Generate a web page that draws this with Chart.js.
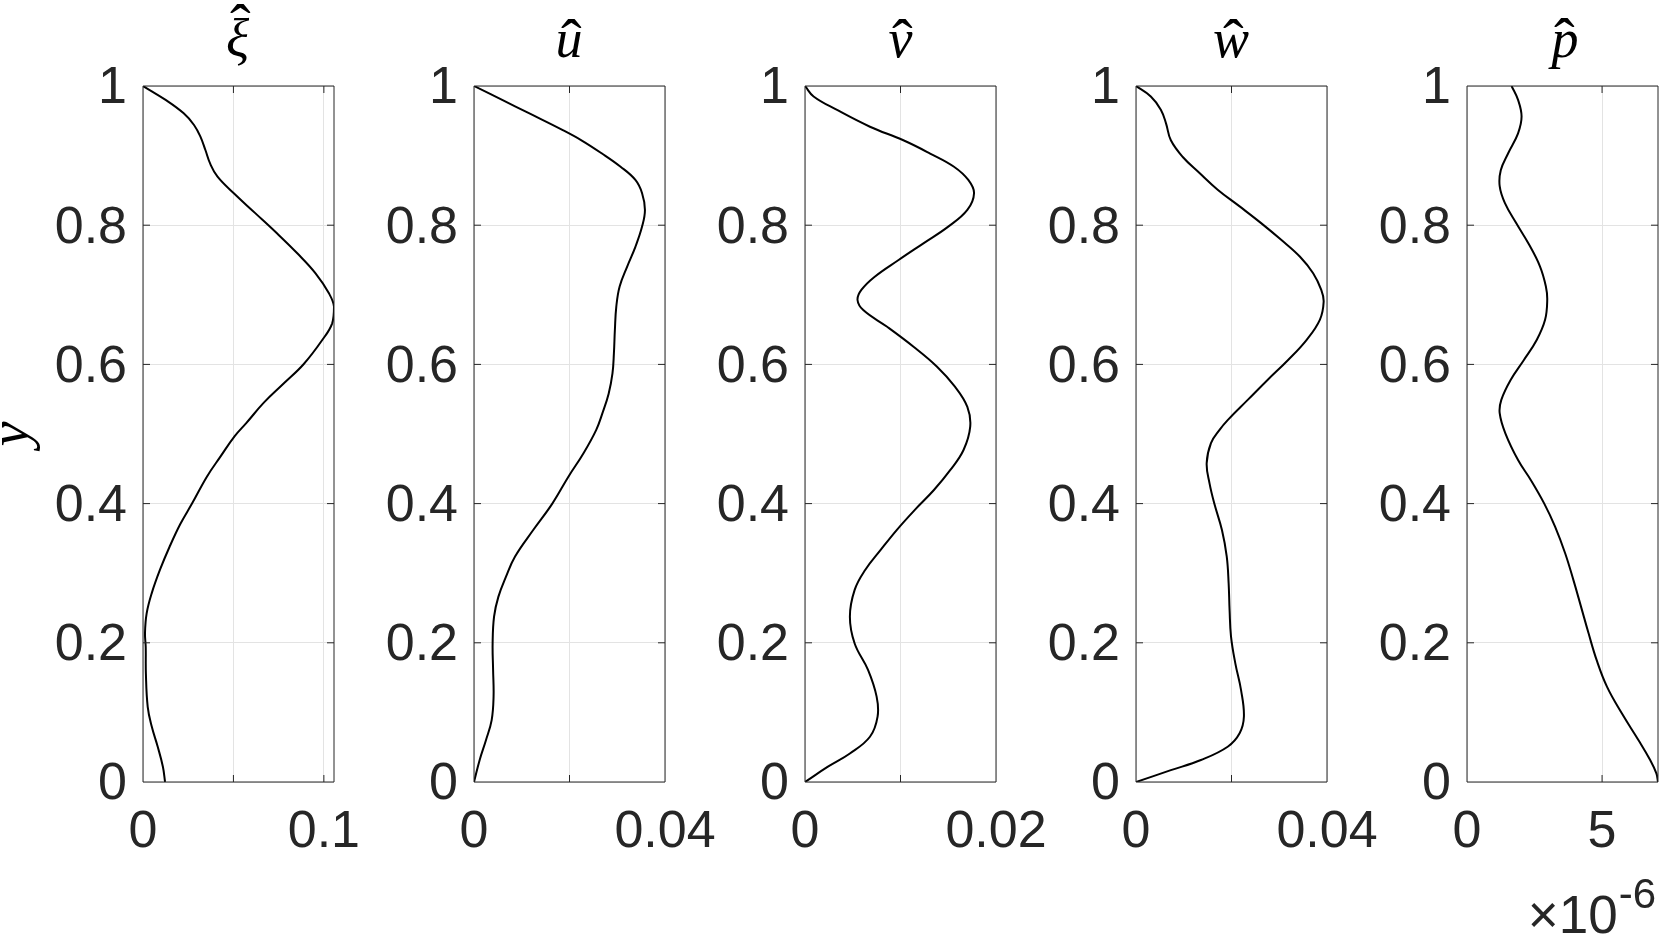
<!DOCTYPE html>
<html lang="en">
<head>
<meta charset="UTF-8">
<title>Profiles</title>
<script src="https://cdn.jsdelivr.net/npm/chart.js"></script>
<style>
  html, body { margin: 0; padding: 0; background: #fff; overflow: hidden; }
  #wrap { position: relative; width: 1661px; height: 936px; }
  .panel { position: absolute; top: 0; }
</style>
</head>
<body>
<div id="wrap">
  <canvas id="c0" class="panel"></canvas>
  <canvas id="c1" class="panel"></canvas>
  <canvas id="c2" class="panel"></canvas>
  <canvas id="c3" class="panel"></canvas>
  <canvas id="c4" class="panel"></canvas>
</div>
<script>
// y axis, shared by all panels
const yTicks = [0, 0.2, 0.4, 0.6, 0.8, 1];
const yTickLabels = ['0', '0.2', '0.4', '0.6', '0.8', '1'];

// xi hat
const xiY = [1, 0.98, 0.9607, 0.944, 0.927, 0.908, 0.888, 0.8697, 0.8458, 0.817, 0.788, 0.7596, 0.7308, 0.7021, 0.683, 0.659, 0.635, 0.6006, 0.5728, 0.545, 0.516, 0.497, 0.4675, 0.439, 0.40, 0.371, 0.338, 0.305, 0.271, 0.242, 0.214, 0.194, 0.156, 0.108, 0.08, 0.051, 0.022, 0];
const xiX = [0, 0.0125, 0.0225, 0.0282, 0.0318, 0.0345, 0.0372, 0.0412, 0.0502, 0.0622, 0.0742, 0.0853, 0.0954, 0.1028, 0.1056, 0.1046, 0.0991, 0.0889, 0.0779, 0.0668, 0.0572, 0.0507, 0.0428, 0.0354, 0.0271, 0.0207, 0.0147, 0.0094, 0.0048, 0.002, 0.0011, 0.0015, 0.0016, 0.0026, 0.0048, 0.0081, 0.011, 0.0122];

// u hat
const uY = [1, 0.98, 0.961, 0.937, 0.922, 0.903, 0.884, 0.865, 0.846, 0.822, 0.798, 0.769, 0.741, 0.712, 0.683, 0.649, 0.616, 0.587, 0.558, 0.53, 0.506, 0.472, 0.439, 0.40, 0.362, 0.324, 0.295, 0.266, 0.2375, 0.199, 0.161, 0.123, 0.089, 0.06, 0.032, 0];
const uX = [0, 0.0059, 0.0115, 0.0185, 0.0225, 0.0268, 0.0307, 0.0338, 0.0352, 0.0358, 0.0352, 0.0338, 0.0321, 0.0305, 0.0298, 0.0295, 0.0293, 0.0290, 0.0282, 0.0269, 0.0256, 0.0229, 0.0198, 0.0164, 0.0124, 0.0086, 0.0067, 0.0051, 0.0042, 0.0039, 0.0040, 0.0041, 0.0037, 0.0025, 0.0012, 0];

// v hat
const vY = [1, 0.985, 0.966, 0.9415, 0.922, 0.903, 0.884, 0.865, 0.846, 0.822, 0.798, 0.774, 0.75, 0.726, 0.707, 0.6925, 0.678, 0.654, 0.625, 0.597, 0.568, 0.539, 0.5105, 0.477, 0.448, 0.4195, 0.391, 0.362, 0.333, 0.3046, 0.276, 0.2375, 0.199, 0.161, 0.1226, 0.094, 0.065, 0.041, 0.022, 0];
const vX = [0, 0.0009, 0.0033, 0.0068, 0.0103, 0.0131, 0.0156, 0.0171, 0.0177, 0.0170, 0.0150, 0.0124, 0.0098, 0.0073, 0.0059, 0.0055, 0.0061, 0.0086, 0.0114, 0.0138, 0.0157, 0.0170, 0.0173, 0.0166, 0.0152, 0.0135, 0.0115, 0.0096, 0.0079, 0.0063, 0.0052, 0.0047, 0.0052, 0.0066, 0.0075, 0.0076, 0.0068, 0.0047, 0.0024, 0];

// w hat
const wY = [1, 0.985, 0.966, 0.946, 0.922, 0.898, 0.875, 0.851, 0.827, 0.803, 0.779, 0.755, 0.731, 0.707, 0.69, 0.664, 0.635, 0.606, 0.578, 0.549, 0.52, 0.506, 0.487, 0.458, 0.429, 0.40, 0.362, 0.324, 0.2855, 0.247, 0.209, 0.1705, 0.132, 0.094, 0.07, 0.0507, 0.0316, 0.017, 0];
const wX = [0, 0.0031, 0.0052, 0.0063, 0.0073, 0.0098, 0.0133, 0.0171, 0.0217, 0.0262, 0.0304, 0.0343, 0.0371, 0.0388, 0.0393, 0.0385, 0.0357, 0.0318, 0.0276, 0.0234, 0.0192, 0.0175, 0.0157, 0.0148, 0.0154, 0.0164, 0.0180, 0.0190, 0.0194, 0.0196, 0.0199, 0.0208, 0.0220, 0.0226, 0.0217, 0.0192, 0.0136, 0.0073, 0];

// p hat
const pY = [1, 0.98, 0.956, 0.932, 0.903, 0.879, 0.856, 0.832, 0.803, 0.774, 0.741, 0.712, 0.6925, 0.664, 0.635, 0.606, 0.578, 0.549, 0.53, 0.501, 0.4626, 0.434, 0.40, 0.367, 0.329, 0.29, 0.252, 0.2136, 0.175, 0.137, 0.0987, 0.06, 0.0316, 0.0125, 0];
const pX = [1.65e-6, 1.89e-6, 2.02e-6, 1.89e-6, 1.52e-6, 1.25e-6, 1.21e-6, 1.40e-6, 1.82e-6, 2.27e-6, 2.70e-6, 2.92e-6, 2.97e-6, 2.89e-6, 2.58e-6, 2.10e-6, 1.62e-6, 1.27e-6, 1.21e-6, 1.42e-6, 1.89e-6, 2.36e-6, 2.86e-6, 3.26e-6, 3.63e-6, 3.94e-6, 4.22e-6, 4.50e-6, 4.80e-6, 5.18e-6, 5.73e-6, 6.35e-6, 6.78e-6, 7.01e-6, 7.07e-6];

const titles = ['\u03BE', 'u', 'v', 'w', 'p'];   // each gets a hat on top
const seriesX = [xiX, uX, vX, wX, pX];
const seriesY = [xiY, uY, vY, wY, pY];
const xMax = [0.1056, 0.04, 0.02, 0.04, 7.07e-6];
const xTicks = [[0, 0.05, 0.1], [0, 0.02, 0.04], [0, 0.01, 0.02], [0, 0.02, 0.04], [0, 5e-6]];
const xTickLabels = [['0', '', '0.1'], ['0', '', '0.04'], ['0', '', '0.02'], ['0', '', '0.04'], ['0', '5']];

const panelLeft = [143, 474, 805, 1136, 1467];
const AXIS_W = 143, PLOT_W = 191, RIGHT_PAD = 95, TOP_PAD = 86, BOTTOM_H = 154, H = 936;
const INK = '#262626';
const TICK_FONT = { family: 'Liberation Sans', size: 52 };

// MATLAB style box with inward ticks on all four sides
const axesFrame = {
    id: 'axesFrame',
    afterDatasetsDraw(chart) {
        const {ctx, chartArea: a, scales: {x, y}} = chart;
        const tl = 7;
        ctx.save();
        ctx.strokeStyle = INK;
        ctx.lineWidth = 1;
        ctx.beginPath();
        x.ticks.forEach(t => {
            const px = x.getPixelForValue(t.value);
            if (px <= a.left + 1 || px >= a.right - 1) return;
            ctx.moveTo(px, a.bottom); ctx.lineTo(px, a.bottom - tl);
            ctx.moveTo(px, a.top); ctx.lineTo(px, a.top + tl);
        });
        y.ticks.forEach(t => {
            const py = y.getPixelForValue(t.value);
            if (py <= a.top + 1 || py >= a.bottom - 1) return;
            ctx.moveTo(a.left, py); ctx.lineTo(a.left + tl, py);
            ctx.moveTo(a.right, py); ctx.lineTo(a.right - tl, py);
        });
        ctx.rect(a.left, a.top, a.right - a.left, a.bottom - a.top);
        ctx.stroke();
        ctx.restore();
    }
};

// panel title: italic letter with a hat accent centred over it
const hatTitle = {
    id: 'hatTitle',
    afterDraw(chart, args, opts) {
        const {ctx, chartArea: a} = chart;
        const cx = (a.left + a.right) / 2;
        const baseY = a.top - 29;
        ctx.save();
        ctx.fillStyle = '#000';
        ctx.textAlign = 'left';
        ctx.textBaseline = 'alphabetic';
        ctx.font = 'italic 54px "Liberation Serif"';
        const m = ctx.measureText(opts.text);
        const x0 = cx - (m.actualBoundingBoxRight - m.actualBoundingBoxLeft) / 2;
        ctx.fillText(opts.text, x0, baseY);
        const top = baseY - m.actualBoundingBoxAscent;
        ctx.font = '62px "Liberation Serif"';
        const h = ctx.measureText('\u02C6');
        const hx = cx + 2 - (h.actualBoundingBoxRight - h.actualBoundingBoxLeft) / 2;
        ctx.fillText('\u02C6', hx, top - 4 - h.actualBoundingBoxDescent);
        ctx.restore();
    }
};

// rotated y label left of the first panel
const yLabel = {
    id: 'yLabel',
    afterDraw(chart) {
        const {ctx, chartArea: a} = chart;
        ctx.save();
        ctx.fillStyle = '#000';
        ctx.font = 'italic 56px "Liberation Serif"';
        ctx.textAlign = 'center';
        ctx.textBaseline = 'alphabetic';
        ctx.translate(28, (a.top + a.bottom) / 2);
        ctx.rotate(-Math.PI / 2);
        ctx.fillText('y', 0, 0);
        ctx.restore();
    }
};

// x10^-6 multiplier under the last panel
const exponentLabel = {
    id: 'exponentLabel',
    afterDraw(chart) {
        const {ctx, chartArea: a} = chart;
        ctx.save();
        ctx.fillStyle = INK;
        ctx.textBaseline = 'alphabetic';
        ctx.textAlign = 'right';
        ctx.font = '42px "Liberation Sans"';
        const xr = a.right - 2;
        ctx.fillText('-6', xr, a.bottom + 126);
        const ew = ctx.measureText('-6').width;
        ctx.font = '53px "Liberation Sans"';
        ctx.fillText('\u00D710', xr - ew - 1, a.bottom + 151);
        ctx.restore();
    }
};

function makePanel(i) {
    const canvas = document.getElementById('c' + i);
    canvas.width = AXIS_W + PLOT_W + RIGHT_PAD;
    canvas.height = H;
    canvas.style.left = (panelLeft[i] - AXIS_W) + 'px';

    const points = seriesX[i].map((v, k) => ({x: v, y: seriesY[i][k]}));
    const plugins = [axesFrame, hatTitle];
    if (i === 0) plugins.push(yLabel);
    if (i === 4) plugins.push(exponentLabel);

    new Chart(canvas, {
        type: 'scatter',
        data: {
            datasets: [{
                data: points,
                showLine: true,
                borderColor: '#000',
                borderWidth: 2,
                pointRadius: 0,
                tension: 0.4,
                fill: false
            }]
        },
        options: {
            responsive: false,
            animation: false,
            layout: { padding: { top: TOP_PAD, right: RIGHT_PAD, bottom: 0, left: 0 } },
            plugins: {
                legend: { display: false },
                tooltip: { enabled: false },
                hatTitle: { text: titles[i] }
            },
            scales: {
                x: {
                    type: 'linear',
                    min: 0,
                    max: xMax[i],
                    afterBuildTicks: s => { s.ticks = xTicks[i].map(v => ({value: v})); },
                    afterFit: s => { s.height = BOTTOM_H; },
                    grid: { color: '#e3e3e3', drawTicks: false },
                    border: { display: false },
                    ticks: {
                        padding: 19,
                        color: INK,
                        maxRotation: 0,
                        autoSkip: false,
                        font: TICK_FONT,
                        callback: (v, idx) => xTickLabels[i][idx]
                    }
                },
                y: {
                    type: 'linear',
                    min: 0,
                    max: 1,
                    afterBuildTicks: s => { s.ticks = yTicks.map(v => ({value: v})); },
                    afterFit: s => { s.width = AXIS_W; },
                    grid: { color: '#e3e3e3', drawTicks: false },
                    border: { display: false },
                    ticks: {
                        padding: 16,
                        labelOffset: 3,
                        color: INK,
                        autoSkip: false,
                        font: TICK_FONT,
                        callback: (v, idx) => yTickLabels[idx]
                    }
                }
            }
        },
        plugins: plugins
    });
}

for (let i = 0; i < 5; i++) makePanel(i);
</script>
</body>
</html>
